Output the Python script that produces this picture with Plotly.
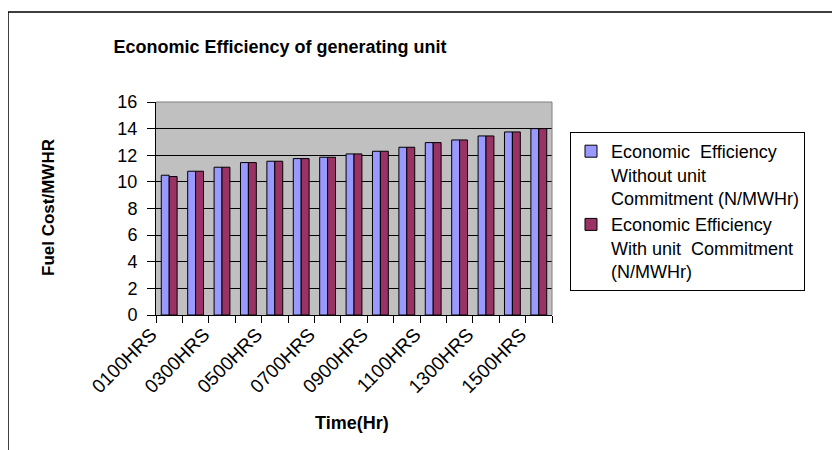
import plotly.graph_objects as go

categories = ["0100HRS", "0200HRS", "0300HRS", "0400HRS", "0500HRS", "0600HRS", "0700HRS",
              "0800HRS", "0900HRS", "1000HRS", "1100HRS", "1200HRS", "1300HRS", "1400HRS", "1500HRS"]
without_uc = [10.5, 10.8, 11.1, 11.45, 11.55, 11.75, 11.85, 12.1, 12.3, 12.6, 12.95, 13.15, 13.45, 13.75, 14.0]
with_uc = [10.4, 10.8, 11.1, 11.45, 11.55, 11.75, 11.85, 12.1, 12.3, 12.6, 12.95, 13.15, 13.45, 13.75, 14.0]
tick_text = [c if i % 2 == 0 else "" for i, c in enumerate(categories)]
y_ticks = [0, 2, 4, 6, 8, 10, 12, 14, 16]

name1 = "Economic  Efficiency<br>Without unit<br>Commitment (N/MWHr)"
name2 = "Economic Efficiency<br>With unit  Commitment<br>(N/MWHr)"

fig = go.Figure()
fig.add_trace(go.Bar(x=categories, y=without_uc, name=name1,
                     marker=dict(color="#9999FF", line=dict(color="black", width=1))))
fig.add_trace(go.Bar(x=categories, y=with_uc, name=name2,
                     marker=dict(color="#993366", line=dict(color="black", width=1))))

# page body has an 8px margin, so the figure is 832x442 and coordinates below are
# given in screen pixels of the 840x450 window and shifted by OFF.
OFF = 8
W, H = 832, 442
L, T = 156 - OFF, 102 - OFF
pw, ph = 396, 213
R, B = W - L - pw, H - T - ph

def px(x):
    return (x - OFF - L) / pw

def py(y):
    return (T + ph - (y - OFF)) / ph

FONT = "Arial, Liberation Sans, sans-serif"

fig.update_layout(
    width=W, height=H,
    margin=dict(l=L, r=R, t=T, b=B),
    paper_bgcolor="white",
    plot_bgcolor="#C0C0C0",
    barmode="group",
    bargap=0.4,
    bargroupgap=0,
    font=dict(family=FONT, color="black", size=15),
    showlegend=True,
    legend=dict(
        x=px(570), y=py(132), xanchor="left", yanchor="top",
        bordercolor="black", borderwidth=1, bgcolor="white",
        font=dict(size=18, family=FONT),
        valign="top", tracegroupgap=0, itemwidth=30,
    ),
    xaxis=dict(
        type="category",
        tickmode="array", tickvals=categories, ticktext=tick_text,
        tickangle=-45, tickson="boundaries",
        ticks="outside", ticklen=7, tickcolor="black", tickwidth=1,
        ticklabelshift=-18, ticklabelstandoff=0,
        showline=True, linecolor="black", linewidth=1,
        showgrid=False, mirror=False,
        tickfont=dict(size=19),
    ),
    yaxis=dict(
        range=[0, 16], tickvals=y_ticks,
        ticks="outside", ticklen=8, tickcolor="black",
        ticklabelstandoff=6,
        showline=True, linecolor="black", linewidth=1,
        showgrid=True, gridcolor="black", gridwidth=1,
        zeroline=False,
        tickfont=dict(size=18),
    ),
    title=dict(
        text="<b>Economic Efficiency of generating unit</b>",
        x=(280 - OFF) / W, xanchor="center", y=1 - (47 - OFF) / H, yanchor="middle",
        font=dict(size=18, family=FONT),
    ),
    annotations=[
        dict(text="<b>Time(Hr)</b>", xref="paper", yref="paper",
             x=px(352), y=py(423), xanchor="center", yanchor="middle",
             showarrow=False, font=dict(size=18, family=FONT)),
        dict(text="<b>Fuel Cost/MWHR</b>", xref="paper", yref="paper",
             x=px(48), y=py(208), xanchor="center", yanchor="middle", textangle=-90,
             showarrow=False, font=dict(size=17, family=FONT)),
    ],
    shapes=[
        dict(type="line", xref="paper", yref="paper",
             x0=1, x1=1, y0=0, y1=1,
             line=dict(color="#808080", width=1)),
        dict(type="line", xref="paper", yref="paper",
             x0=0, x1=1, y0=1, y1=1,
             line=dict(color="#808080", width=1)),
        dict(type="rect", xref="paper", yref="paper",
             x0=px(8), x1=px(900), y0=py(12), y1=py(500),
             line=dict(color="black", width=1.5), fillcolor="rgba(0,0,0,0)", layer="below"),
    ],
)

fig.write_html("out.html")
